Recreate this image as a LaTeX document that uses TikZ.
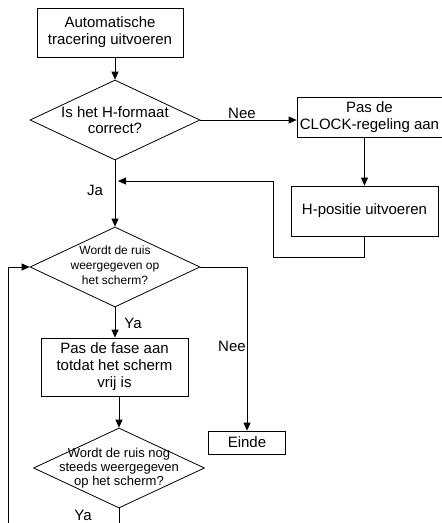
\documentclass[tikz,border=0pt]{standalone}
\usepackage{fontspec}
\setmainfont{Liberation Sans}
\usetikzlibrary{shapes.geometric, arrows.meta}

\begin{document}
\begin{tikzpicture}[x = 1pt, y = -1pt, line width = 0.8pt]
  \tikzstyle{block} = [rectangle, draw, inner sep = 0pt, align = center, font = \fontsize{15}{17}\selectfont]
  \tikzstyle{decision} = [diamond, draw, inner sep = 0pt]
  \tikzstyle{dtext} = [inner sep = 0pt, align = center]
  \tikzstyle{tag} = [inner sep = 0pt, font = \fontsize{15}{17}\selectfont]
  \tikzstyle{flow} = [-{Triangle[length = 8pt, width = 7pt]}]

  \useasboundingbox (0, 0) rectangle (442, 523);
  \clip (0, 0) rectangle (442, 523);

  % Draw process boxes
  \node[block, minimum width = 146pt, minimum height = 49pt] (trace) at (110, 32.5) {Automatische\\tracering uitvoeren};
  \node[block, minimum width = 145pt, minimum height = 40pt] (clock) at (369.5, 117) {Pas de\\CLOCK-regeling aan};
  \node[block, minimum width = 147pt, minimum height = 50pt] (hpos) at (364.5, 211) {H-positie uitvoeren};
  \node[block, minimum width = 147pt, minimum height = 58pt] (phase) at (114.5, 367) {Pas de fase aan\\totdat het scherm\\vrij is};
  \node[block, minimum width = 77pt, minimum height = 23pt] (end) at (247, 442.5) {Einde};

  % Draw decision diamonds
  \node[decision, minimum width = 170pt, minimum height = 80pt] (format) at (115, 120) {};
  \node[dtext, font = \fontsize{15}{16}\selectfont] (formatText) at (format) {Is het H-formaat\\correct?};
  \node[decision, minimum width = 170pt, minimum height = 80pt] (noise) at (115, 267) {};
  \node[dtext, font = \fontsize{12}{15}\selectfont] (noiseText) at (115, 265) {Wordt de ruis\\weergegeven op\\het scherm?};
  \node[decision, minimum width = 171pt, minimum height = 80pt] (check) at (119, 468) {};
  \node[dtext, font = \fontsize{13}{14}\selectfont] (checkText) at (check) {Wordt de ruis nog\\steeds weergegeven\\op het scherm?};

  % Answer labels
  \node[tag] (neeA) at (242, 113) {Nee};
  \node[tag] (ja) at (95, 190) {Ja};
  \node[tag] (yaA) at (133, 323) {Ya};
  \node[tag] (neeB) at (232, 346) {Nee};
  \node[tag] (yaB) at (83, 515) {Ya};

  % Connections
  \coordinate (jaIn) at (118, 181);
  \coordinate (turn) at (273, 257);
  \coordinate (loopLow) at (8, 540);
  \draw[flow] (trace.south -| format.north) -- (format.north);
  \draw[flow] (format.east) -- (format.east -| clock.west);
  \draw[flow] (clock.south -| hpos.north) -- (hpos.north);
  \draw[flow] (hpos.south) |- (turn) |- (jaIn);
  \draw[flow] (format.south) -- (noise.north);
  \draw[flow] (noise.east) -| (end.north);
  \draw[flow] (noise.south) -- (noise.south |- phase.north);
  \draw[flow] (phase.south -| check.north) -- (check.north);
  \draw[flow] (check.south) |- (loopLow) |- (noise.west);

\end{tikzpicture}
\end{document}
